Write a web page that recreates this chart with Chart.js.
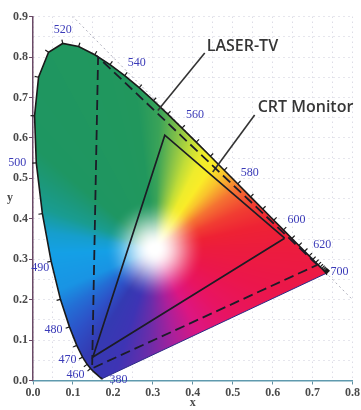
<!DOCTYPE html>
<html>
<head>
<meta charset="utf-8">
<script src="https://cdn.jsdelivr.net/npm/chart.js@4.4.1/dist/chart.umd.min.js"></script>
<style>
  html, body { margin: 0; padding: 0; background: #ffffff; }
  canvas { display: block; }
</style>
</head>
<body>
<canvas id="chart" width="361" height="410"></canvas>
<script>
// CIE 1931 spectral locus (2° observer), 5 nm steps
const wavelengths = [380,385,390,395,400,405,410,415,420,425,430,435,440,445,450,455,460,465,470,475,480,485,490,495,500,505,510,515,520,525,530,535,540,545,550,555,560,565,570,575,580,585,590,595,600,605,610,615,620,625,630,635,640,645,650,655,660,665,670,675,680,685,690,695,700];
const locusX = [0.1741,0.1740,0.1738,0.1736,0.1733,0.1730,0.1726,0.1721,0.1714,0.1703,0.1689,0.1669,0.1644,0.1611,0.1566,0.1510,0.1440,0.1355,0.1241,0.1096,0.0913,0.0687,0.0454,0.0235,0.0082,0.0039,0.0139,0.0389,0.0743,0.1142,0.1547,0.1929,0.2296,0.2658,0.3016,0.3373,0.3731,0.4087,0.4441,0.4788,0.5125,0.5448,0.5752,0.6029,0.6270,0.6482,0.6658,0.6801,0.6915,0.7006,0.7079,0.7140,0.7190,0.7230,0.7260,0.7283,0.7300,0.7311,0.7320,0.7327,0.7334,0.7340,0.7344,0.7346,0.7347];
const locusY = [0.0050,0.0050,0.0049,0.0049,0.0048,0.0048,0.0048,0.0048,0.0051,0.0058,0.0069,0.0086,0.0109,0.0138,0.0177,0.0227,0.0297,0.0399,0.0578,0.0868,0.1327,0.2007,0.2950,0.4127,0.5384,0.6548,0.7502,0.8120,0.8338,0.8262,0.8059,0.7816,0.7543,0.7243,0.6923,0.6589,0.6245,0.5896,0.5547,0.5202,0.4866,0.4544,0.4242,0.3965,0.3725,0.3514,0.3340,0.3197,0.3083,0.2993,0.2920,0.2859,0.2809,0.2770,0.2740,0.2717,0.2700,0.2689,0.2680,0.2673,0.2666,0.2660,0.2656,0.2654,0.2653];

// Wavelengths that carry a number on the locus
const labelledWavelengths = [380,460,470,480,490,500,520,540,560,580,600,620,700];

// Gamut triangles: red, green, blue primaries
const laserX = [0.712, 0.163, 0.148];
const laserY = [0.286, 0.800, 0.030];
const crtX = [0.630, 0.330, 0.150];
const crtY = [0.352, 0.607, 0.058];

// Callout leader lines (text end first)
const laserLeaderX = [0.430, 0.3125];
const laserLeaderY = [0.810, 0.668];
const crtLeaderX = [0.555, 0.450];
const crtLeaderY = [0.657, 0.516];
const calloutText = ['LASER-TV', 'CRT Monitor'];

// The x + y = 1 edge
const edgeX = [0.098, 0.800];
const edgeY = [0.902, 0.200];

// Axis ticks
const xTickValues = [0.0,0.1,0.2,0.3,0.4,0.5,0.6,0.7,0.8];
const xTickLabels = ['0.0','0.1','0.2','0.3','0.4','0.5','0.6','0.7','0.8'];
const yTickValues = [0.0,0.1,0.2,0.3,0.4,0.5,0.6,0.7,0.8,0.9];
const yTickLabels = ['0.0','0.1','0.2','0.3','0.4','0.5','0.6','0.7','0.8','0.9'];

// ---- styling ----
const whitePoint = { x: 0.305, y: 0.325 };
// hue ring around the white point: [angle deg, r, g, b]
const hueRing = [
  [0,236,28,62],[12,238,34,52],[24,241,62,50],[36,245,115,50],[47,249,195,45],
  [55,250,236,40],[63,238,236,44],[71,192,220,56],[79,132,193,72],[88,58,163,88],[97,33,151,93],
  [140,30,150,98],[150,28,152,122],[160,25,156,145],[171,22,158,205],[182,20,160,230],
  [203,25,148,228],[214,35,112,214],[226,45,82,200],[238,52,58,178],[252,62,52,180],
  [266,105,45,170],[282,170,32,155],[298,220,22,130],[318,232,20,98],[340,235,22,76],
  [360,236,28,62]
];
// pixel offsets of the wavelength numbers from their locus point
const labelOffset = {
  380:[16,1], 460:[-15,6], 470:[-15,3], 480:[-16,3], 490:[-11,7], 500:[-19,0],
  520:[0,-14], 540:[12,-13], 560:[13,-13], 580:[12,-11], 600:[13,-10], 620:[13,-11], 700:[13,-1]
};

const pts = (xs, ys) => xs.map((x, i) => ({ x, y: ys[i] }));
const closed = (xs, ys) => { const p = pts(xs, ys); p.push(p[0]); return p; };

function hueAt(deg) {
  for (let i = 1; i < hueRing.length; i++) {
    const a = hueRing[i - 1], b = hueRing[i];
    if (deg <= b[0]) {
      const t = (deg - a[0]) / (b[0] - a[0]);
      return [a[1] + (b[1] - a[1]) * t, a[2] + (b[2] - a[2]) * t, a[3] + (b[3] - a[3]) * t];
    }
  }
  return hueRing[0].slice(1);
}

function smooth(a, b, v) {
  const t = Math.min(1, Math.max(0, (v - a) / (b - a)));
  return t * t * (3 - 2 * t);
}

function locusPath(ctx, xs, ys) {
  ctx.beginPath();
  locusX.forEach((x, i) => {
    const px = xs.getPixelForValue(x), py = ys.getPixelForValue(locusY[i]);
    if (i === 0) ctx.moveTo(px, py); else ctx.lineTo(px, py);
  });
  ctx.closePath();
}

const chromaField = {
  id: 'chromaField',
  beforeDatasetsDraw(chart) {
    const { ctx, chartArea: a, scales: { x: xs, y: ys } } = chart;
    const w = Math.ceil(a.right - a.left), h = Math.ceil(a.bottom - a.top);
    const off = document.createElement('canvas');
    off.width = w; off.height = h;
    const octx = off.getContext('2d');
    const img = octx.createImageData(w, h);
    for (let j = 0; j < h; j++) {
      const y = ys.getValueForPixel(a.top + j + 0.5);
      for (let i = 0; i < w; i++) {
        const x = xs.getValueForPixel(a.left + i + 0.5);
        const dx = x - whitePoint.x, dy = y - whitePoint.y;
        const r = Math.hypot(dx, dy);
        let deg = Math.atan2(dy, dx) * 180 / Math.PI;
        if (deg < 0) deg += 360;
        const s = smooth(0.008, 0.125, r);
        const c = hueAt(deg);
        const o = (j * w + i) * 4;
        img.data[o] = 255 + (c[0] - 255) * s;
        img.data[o + 1] = 255 + (c[1] - 255) * s;
        img.data[o + 2] = 255 + (c[2] - 255) * s;
        img.data[o + 3] = 255;
      }
    }
    octx.putImageData(img, 0, 0);
    ctx.save();
    locusPath(ctx, xs, ys);
    ctx.clip();
    ctx.drawImage(off, a.left, a.top);
    ctx.restore();
  },
  afterDatasetsDraw(chart) {
    const { ctx, scales: { x: xs, y: ys } } = chart;
    const P = locusX.map((x, i) => [xs.getPixelForValue(x), ys.getPixelForValue(locusY[i])]);
    ctx.save();
    // small wavelength ticks, pointing outward
    ctx.strokeStyle = '#1c1c1c';
    ctx.lineWidth = 1.2;
    for (let i = 16; i < P.length; i++) {
      const p0 = P[Math.max(0, i - 1)], p1 = P[Math.min(P.length - 1, i + 1)];
      let tx = p1[0] - p0[0], ty = p1[1] - p0[1];
      const L = Math.hypot(tx, ty) || 1;
      tx /= L; ty /= L;
      const nx = ty, ny = -tx;
      ctx.beginPath();
      ctx.moveTo(P[i][0], P[i][1]);
      ctx.lineTo(P[i][0] + nx * 4, P[i][1] + ny * 4);
      ctx.stroke();
    }
    // wavelength numbers
    ctx.fillStyle = '#3a3ab8';
    ctx.font = '12px "Liberation Serif", "DejaVu Serif", serif';
    ctx.textAlign = 'center';
    ctx.textBaseline = 'middle';
    labelledWavelengths.forEach(wl => {
      const i = wavelengths.indexOf(wl);
      const d = labelOffset[wl];
      ctx.fillText(String(wl), P[i][0] + d[0], P[i][1] + d[1]);
    });
    ctx.restore();
  },
  afterDraw(chart) {
    const { ctx, chartArea: a, scales: { x: xs, y: ys } } = chart;
    ctx.save();
    // callout captions
    ctx.fillStyle = '#363636';
    ctx.font = '600 16px "Open Sans", "Liberation Sans", sans-serif';
    ctx.textAlign = 'left';
    ctx.textBaseline = 'alphabetic';
    ctx.fillText(calloutText[0], xs.getPixelForValue(laserLeaderX[0]) + 2, ys.getPixelForValue(laserLeaderY[0]) - 2);
    ctx.fillText(calloutText[1], xs.getPixelForValue(crtLeaderX[0]) + 3, ys.getPixelForValue(crtLeaderY[0]) - 3);
    // y axis title, upright
    ctx.fillStyle = '#4a4a4a';
    ctx.font = 'bold 12px "Liberation Serif", serif';
    ctx.textAlign = 'center';
    ctx.textBaseline = 'middle';
    ctx.fillText('y', ys.left + 10, (a.top + a.bottom) / 2 - 1);
    ctx.restore();
  }
};

const isMajor = (list, v) => list.findIndex(t => Math.abs(t - v) < 1e-6);
const axisFont = { family: '"Liberation Serif", serif', size: 12, weight: 'bold' };

new Chart(document.getElementById('chart'), {
  type: 'scatter',
  data: {
    datasets: [
      { label: 'locus', data: pts(locusX, locusY), showLine: true, borderColor: '#1a1a1a', borderWidth: 1.6, pointRadius: 0, order: 1 },
      { label: 'purple line', data: [{ x: locusX[locusX.length - 1], y: locusY[locusY.length - 1] }, { x: locusX[0], y: locusY[0] }], showLine: true, borderColor: '#2c2c86', borderWidth: 1, pointRadius: 0, order: 2 },
      { label: 'LASER-TV', data: closed(laserX, laserY), showLine: true, borderColor: '#1c1c28', borderWidth: 1.8, borderDash: [10, 5], pointRadius: 0, order: 0 },
      { label: 'CRT Monitor', data: closed(crtX, crtY), showLine: true, borderColor: '#1c1c24', borderWidth: 1.7, pointRadius: 0, order: 0 },
      { label: 'laser leader', data: pts(laserLeaderX, laserLeaderY), showLine: true, borderColor: '#333333', borderWidth: 1.6, pointRadius: 0, order: 0 },
      { label: 'crt leader', data: pts(crtLeaderX, crtLeaderY), showLine: true, borderColor: '#333333', borderWidth: 1.6, pointRadius: 0, order: 0 },
      { label: 'x+y=1', data: pts(edgeX, edgeY), showLine: true, borderColor: 'rgba(150,150,165,0.75)', borderWidth: 1, borderDash: [2, 3], pointRadius: 0, order: 5 }
    ]
  },
  options: {
    responsive: false,
    maintainAspectRatio: false,
    devicePixelRatio: 1,
    animation: false,
    layout: { padding: { top: 16.7, right: 8, left: 0, bottom: 0 } },
    plugins: { legend: { display: false }, tooltip: { enabled: false } },
    scales: {
      x: {
        type: 'linear', min: 0, max: 0.8,
        afterBuildTicks: s => { s.ticks = []; for (let i = 0; i <= 16; i++) s.ticks.push({ value: i * 0.05 }); },
        afterFit: s => { s.height = 29.5; },
        ticks: {
          autoSkip: false, maxRotation: 0, padding: 1, color: '#4a4a4a', font: axisFont,
          callback: v => { const i = isMajor(xTickValues, v); return i >= 0 ? xTickLabels[i] : ''; }
        },
        grid: {
          color: 'rgba(170,170,195,0.6)', lineWidth: 1, tickLength: 4,
          tickColor: c => isMajor(xTickValues, c.tick ? c.tick.value : -1) >= 0 ? '#5f8fa0' : 'rgba(0,0,0,0)'
        },
        border: { display: true, color: '#5f9aae', width: 1.5, dash: [1, 4] },
        title: { display: true, text: 'x', color: '#4a4a4a', font: axisFont, padding: { top: 0, bottom: 0 } }
      },
      y: {
        type: 'linear', min: 0, max: 0.9,
        afterBuildTicks: s => { s.ticks = []; for (let i = 0; i <= 18; i++) s.ticks.push({ value: i * 0.05 }); },
        afterFit: s => { s.width = 33; },
        ticks: {
          autoSkip: false, padding: 1, color: '#4a4a4a', font: axisFont,
          callback: v => { const i = isMajor(yTickValues, v); return i >= 0 ? yTickLabels[i] : ''; }
        },
        grid: {
          color: 'rgba(170,170,195,0.6)', lineWidth: 1, tickLength: 4,
          tickColor: c => isMajor(yTickValues, c.tick ? c.tick.value : -1) >= 0 ? '#6a4a66' : 'rgba(0,0,0,0)'
        },
        border: { display: true, color: '#6a4a66', width: 1.5, dash: [1, 4] }
      }
    }
  },
  plugins: [chromaField]
});
</script>
</body>
</html>
